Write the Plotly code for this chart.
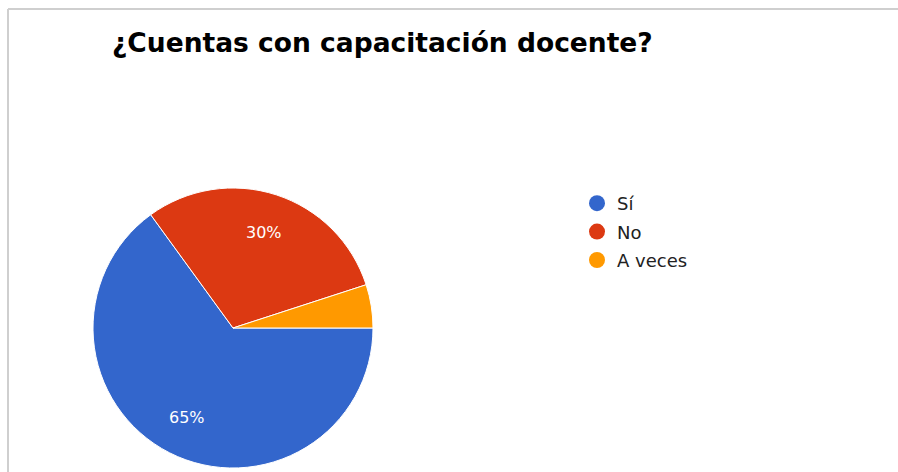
import math
import plotly.graph_objects as go

title = "¿Cuentas con capacitación docente?"
labels = ["Sí", "No", "A veces"]
values = [65, 30, 5]
colors = ["#3366CC", "#DC3912", "#FF9900"]
shown_text = ["65%", "30%", ""]

W, H = 898, 472
cx, cy, r = 233, 328, 140
start_deg = 90  # first slice starts at 3 o'clock, going clockwise

fig = go.Figure()
fig.add_trace(go.Pie(
    labels=labels, values=values, sort=False, direction="clockwise", rotation=start_deg,
    marker=dict(colors=colors, line=dict(color="white", width=1)),
    textinfo="none", showlegend=False, hoverinfo="label+percent",
    domain=dict(x=[(cx - r) / W, (cx + r) / W], y=[(H - cy - r) / H, (H - cy + r) / H]),
))

# slice labels placed at ~0.72 of the radius, at the middle angle of each slice
total = sum(values)
cum = 0
annotations = []
for v, t in zip(values, shown_text):
    mid = (cum + v / 2) / total
    cum += v
    if not t:
        continue
    ang = math.radians(start_deg + mid * 360)  # clockwise from 12 o'clock
    px = cx + 0.72 * r * math.sin(ang)
    py = cy - 0.72 * r * math.cos(ang)
    annotations.append(dict(
        text=t, x=px / W, y=1 - py / H, xref="paper", yref="paper", showarrow=False,
        xanchor="center", yanchor="middle",
        font=dict(family="DejaVu Sans", size=16, color="white"),
    ))

for i, (lab, col) in enumerate(zip(labels, colors)):
    fig.add_trace(go.Scatter(
        x=[None], y=[None], mode="markers", name=lab, legendgroup=str(i),
        marker=dict(symbol="circle", size=16, color=col), showlegend=True,
    ))

fig.update_layout(
    width=W, height=H, margin=dict(l=0, r=0, t=0, b=0),
    paper_bgcolor="white", plot_bgcolor="white",
    xaxis=dict(visible=False), yaxis=dict(visible=False),
    title=dict(text="<b>" + title + "</b>", x=112 / W, xanchor="left", y=1 - 43 / H, yanchor="middle",
               font=dict(family="DejaVu Sans", size=26.5, color="#000")),
    legend=dict(x=577 / W, y=1 - 185 / H, xanchor="left", yanchor="top",
                font=dict(family="DejaVu Sans", size=18, color="#222"),
                tracegroupgap=2, itemsizing="trace", bgcolor="rgba(0,0,0,0)"),
    annotations=annotations,
    shapes=[
        dict(type="line", xref="paper", yref="paper", x0=8 / W, x1=1, y0=1 - 9 / H, y1=1 - 9 / H,
             line=dict(color="#cfcfcf", width=2)),
        dict(type="line", xref="paper", yref="paper", x0=8 / W, x1=8 / W, y0=0, y1=1 - 9 / H,
             line=dict(color="#cfcfcf", width=2)),
    ],
)
fig.write_html("out.html", config={"displayModeBar": False},
               post_script="document.body.style.margin='0';document.body.style.overflow='hidden';")
